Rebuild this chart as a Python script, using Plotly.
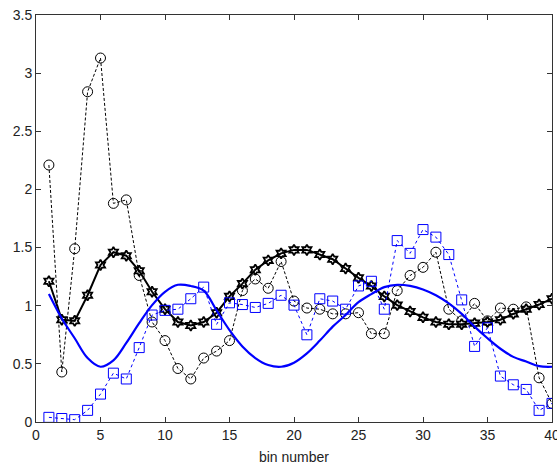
import plotly.graph_objects as go

bins = list(range(1, 41))

circles = [2.21, 0.43, 1.49, 2.84, 3.13, 1.88, 1.91, 1.26, 0.86, 0.70,
           0.46, 0.37, 0.55, 0.61, 0.70, 1.13, 1.23, 1.15, 1.38, 1.04,
           0.98, 0.97, 0.93, 0.93, 0.94, 0.76, 0.76, 1.13, 1.26, 1.33,
           1.46, 0.97, 0.87, 1.02, 0.87, 0.98, 0.97, 0.99, 0.38, 0.16]

stars = [1.21, 0.88, 0.87, 1.09, 1.35, 1.46, 1.43, 1.30, 1.12, 0.97,
         0.86, 0.83, 0.86, 0.94, 1.08, 1.19, 1.31, 1.39, 1.45, 1.48,
         1.48, 1.44, 1.40, 1.32, 1.24, 1.17, 1.08, 1.005, 0.95, 0.90,
         0.86, 0.84, 0.84, 0.85, 0.86, 0.88, 0.93, 0.97, 1.01, 1.06]

blue_line = [1.10, 0.89, 0.72, 0.55, 0.475, 0.53, 0.68, 0.85, 1.005, 1.12,
             1.18, 1.17, 1.13, 0.96, 0.79, 0.65, 0.55, 0.49, 0.475, 0.51,
             0.59, 0.70, 0.82, 0.92, 1.03, 1.10, 1.16, 1.18, 1.17, 1.14,
             1.09, 1.02, 0.93, 0.82, 0.72, 0.63, 0.56, 0.52, 0.48, 0.475]

squares = [0.04, 0.03, 0.02, 0.10, 0.24, 0.42, 0.37, 0.64, 0.92, 0.96,
           0.97, 1.06, 1.16, 0.84, 1.025, 1.01, 0.985, 1.02, 1.09, 1.005,
           0.75, 1.06, 1.04, 0.97, 1.17, 1.21, 0.97, 1.56, 1.45, 1.655,
           1.59, 1.44, 1.05, 0.65, 0.81, 0.395, 0.32, 0.28, 0.10, 0.16]

x_ticks = [0, 5, 10, 15, 20, 25, 30, 35, 40]
y_ticks = [0, 0.5, 1, 1.5, 2, 2.5, 3, 3.5]
y_tick_text = ["0", "0.5", "1", "1.5", "2", "2.5", "3", "3.5"]

fig = go.Figure()

fig.add_trace(go.Scatter(
    x=bins, y=circles, mode="lines+markers",
    line=dict(color="black", width=1, dash="3px,2px"),
    marker=dict(symbol="circle-open", size=10, color="black", line=dict(width=1))))

fig.add_trace(go.Scatter(
    x=bins, y=stars, mode="lines+markers",
    line=dict(color="black", width=2),
    marker=dict(symbol="hexagram-open", size=8, color="black", line=dict(width=1.8))))

fig.add_trace(go.Scatter(
    x=bins, y=blue_line, mode="lines",
    line=dict(color="#0000ff", width=2.2, shape="spline")))

fig.add_trace(go.Scatter(
    x=bins, y=squares, mode="lines+markers",
    line=dict(color="#0000ff", width=1, dash="3px,3px"),
    marker=dict(symbol="square-open", size=10, color="#0000ff", line=dict(width=1))))

font = dict(family="Liberation Sans, Arial", size=14, color="#222222")

axis_common = dict(
    showgrid=False, zeroline=False, showline=True, linecolor="#333333", linewidth=1,
    mirror="ticks", ticks="inside", ticklen=5, tickcolor="#333333",
    tickfont=font, ticklabeloverflow="allow", automargin=False)

fig.update_xaxes(range=[0, 40], tickvals=x_ticks,
                 title=dict(text="bin number", font=font, standoff=10),
                 **axis_common)
fig.update_yaxes(range=[0, 3.5], tickvals=y_ticks, ticktext=y_tick_text, **axis_common)

fig.update_layout(
    width=557, height=466,
    margin=dict(l=36, r=5, t=15, b=44),
    plot_bgcolor="white", paper_bgcolor="white",
    showlegend=False)

fig.write_html("out.html")
